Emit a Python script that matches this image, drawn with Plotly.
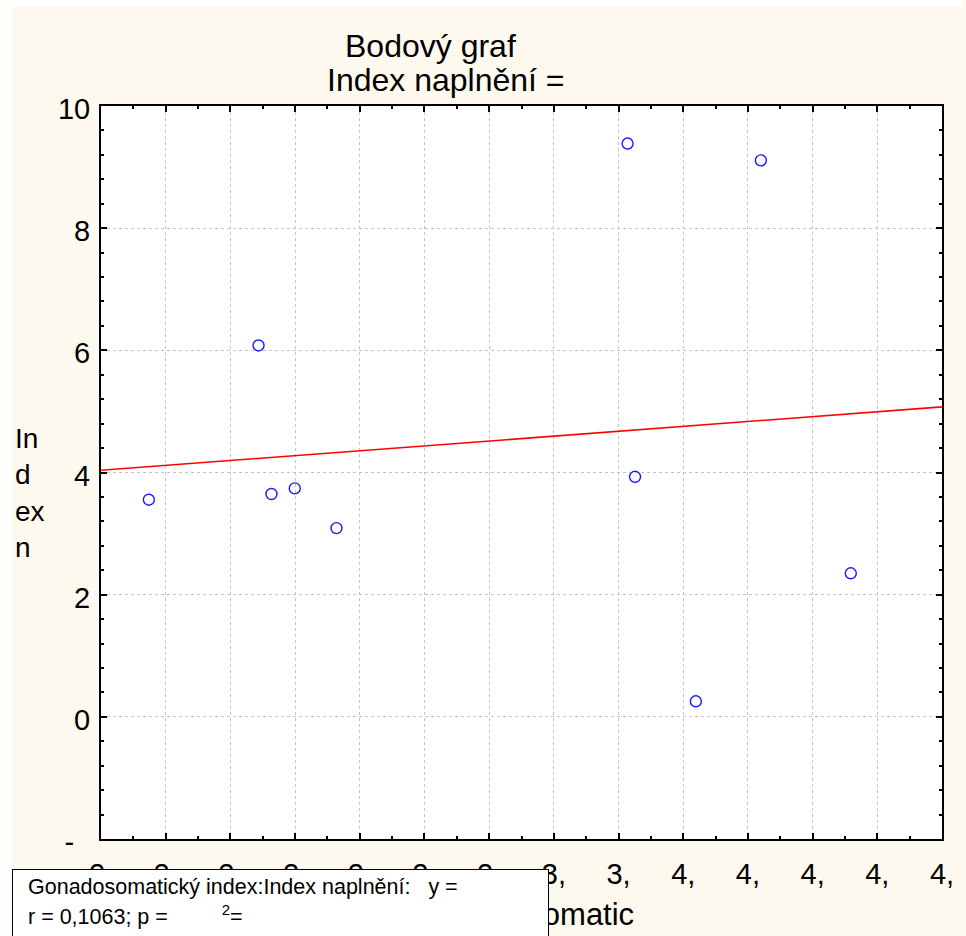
import numpy as np
import plotly.graph_objects as go

# Gonadosomatic index (x) and fullness index (y) for each fish
GSI = [2.148, 2.487, 2.527, 2.599, 2.728, 3.628, 3.651, 3.839, 4.040, 4.318]
FULLNESS = [3.555, 6.08, 3.648, 3.74, 3.09, 9.385, 3.93, 0.254, 9.11, 2.35]

# axis ticks and their (clipped) labels as printed by the stats package
X_TICKS = [2.0, 2.2, 2.4, 2.6, 2.8, 3.0, 3.2, 3.4, 3.6, 3.8, 4.0, 4.2, 4.4, 4.6]
X_LABELS = ["2,"] * 7 + ["3,"] * 2 + ["4,"] * 5
Y_TICKS = [-2, 0, 2, 4, 6, 8, 10]
Y_LABELS = ["-\u00a0\u00a0", "0", "2", "4", "6", "8", "10"]

STATS_LINE1 = "Gonadosomatický index:Index naplnění:\u00a0\u00a0\u00a0y ="
STATS_LINE2 = "r = 0,1063; p =" + "\u00a0" * 9 + "<sup>2</sup>="

W, H = 966, 936
L, R, T, B = 101, 946, 106, 839  # plot area in pixels
FONT = "Liberation Sans, Arial, sans-serif"
CREAM = "#FEF9EF"


def px(x):
    return (x - L) / (R - L)


def py(y):
    return (B - y) / (B - T)


# least-squares line over the full x range
slope, intercept = np.polyfit(GSI, FULLNESS, 1)
x_line = np.array([X_TICKS[0], X_TICKS[-1]])
y_line = intercept + slope * x_line

fig = go.Figure()
fig.add_trace(go.Scatter(
    x=x_line, y=y_line, mode="lines",
    line=dict(color="#ff0000", width=1.6), hoverinfo="skip",
))
fig.add_trace(go.Scatter(
    x=GSI, y=FULLNESS, mode="markers",
    marker=dict(symbol="circle-open", size=11, color="#1a1aff",
                line=dict(width=1.4, color="#1a1aff")),
))

axis_common = dict(
    showline=True, linecolor="black", linewidth=2, mirror="ticks",
    ticks="inside", ticklen=6, tickwidth=2, tickcolor="black",
    showgrid=True, gridcolor="#c4c4c4", gridwidth=1, griddash="dot",
    zeroline=False, tickfont=dict(family=FONT, size=29, color="black"),
)

fig.update_xaxes(
    range=[X_TICKS[0], X_TICKS[-1]], tickmode="array",
    tickvals=X_TICKS, ticktext=X_LABELS, ticklabelstandoff=8,
    minor=dict(ticks="inside", ticklen=3, tickwidth=2, tickcolor="black",
               dtick=0.1, tick0=2.0, showgrid=False),
    **axis_common,
)
fig.update_yaxes(
    range=[Y_TICKS[0], Y_TICKS[-1]], tickmode="array",
    tickvals=Y_TICKS, ticktext=Y_LABELS, ticklabelstandoff=3,
    ticklabelshift=3,
    minor=dict(ticks="inside", ticklen=3, tickwidth=2, tickcolor="black",
               dtick=0.4, tick0=0, showgrid=False),
    **axis_common,
)

annotations = [
    dict(text="Bodový graf", x=px(432), y=py(46), xanchor="center", yanchor="middle",
         font=dict(family=FONT, size=32, color="black")),
    dict(text="Index naplnění =", x=px(448), y=py(80), xanchor="center", yanchor="middle",
         font=dict(family=FONT, size=32, color="black")),
    dict(text="In<br>d<br>ex<br>n", x=px(13), y=py(493), xanchor="left", yanchor="middle",
         align="left", font=dict(family=FONT, size=28, color="black")),
    dict(text="Gonadosomatic", x=px(639), y=py(915), xanchor="right", yanchor="middle",
         font=dict(family=FONT, size=31, color="black")),
    # statistics box, drawn over the lower-left tick labels
    dict(text="\u00a0", x=px(12), y=py(869), xanchor="left", yanchor="top",
         width=535, height=120, bgcolor="white", bordercolor="black",
         borderwidth=1, borderpad=0, font=dict(size=10)),
    dict(text=STATS_LINE1, x=px(26), y=py(887), xanchor="left", yanchor="middle",
         font=dict(family=FONT, size=21.5, color="black")),
    dict(text=STATS_LINE2, x=px(26), y=py(915), xanchor="left", yanchor="middle",
         font=dict(family=FONT, size=21.5, color="black")),
]
for a in annotations:
    a.update(xref="paper", yref="paper", showarrow=False)

shapes = [
    dict(type="rect", xref="paper", yref="paper", layer="below",
         x0=px(0), x1=px(W), y0=py(0), y1=py(7), fillcolor="white", line_width=0),
    dict(type="rect", xref="paper", yref="paper", layer="below",
         x0=px(0), x1=px(11), y0=py(0), y1=py(H), fillcolor="white", line_width=0),
]

fig.update_layout(
    width=W, height=H,
    margin=dict(l=L, r=W - R, t=T, b=H - B, pad=0),
    paper_bgcolor=CREAM, plot_bgcolor="white",
    showlegend=False,
    annotations=annotations, shapes=shapes,
    font=dict(family=FONT, color="black"),
)

fig.write_html("out.html")
